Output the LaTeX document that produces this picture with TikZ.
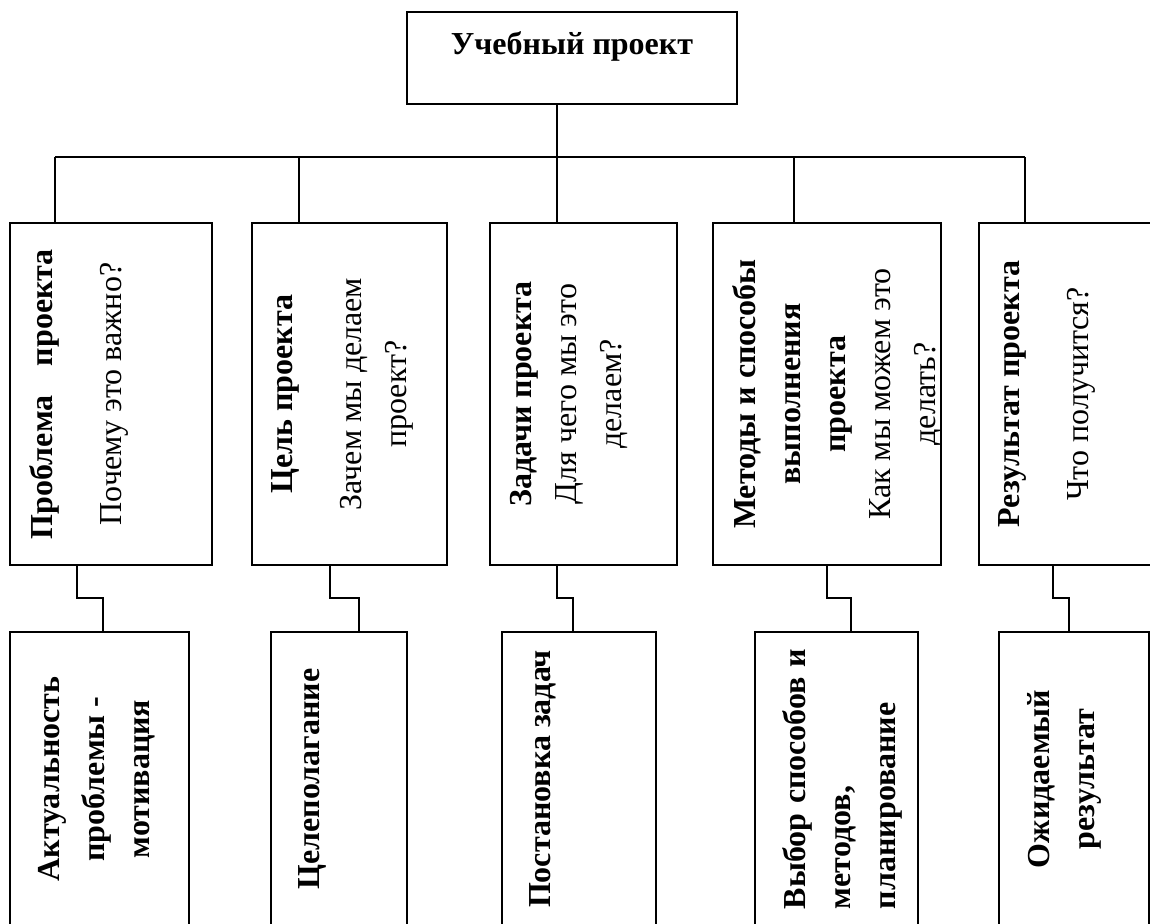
\documentclass[tikz,border=0pt]{standalone}
\usepackage{fontspec}
\setmainfont{Liberation Serif}
\usepackage{tikz}
\usetikzlibrary{calc}

% text cells, top aligned inside a box of fixed size
\newcommand{\stagetext}[2]{\parbox[c][#1][t]{171pt}{\vspace*{10pt}\centering #2}}
\newcommand{\resulttext}[2]{\parbox[c][#1][t]{147pt}{\vspace*{14pt}\centering #2}}

\begin{document}
\begin{tikzpicture}[
  x=0.5pt, y=-0.5pt,
  line width=0.8pt,
  project/.style={
    rectangle,
    draw,
    inner sep=0pt,
    font=\bfseries\fontsize{16}{22.5}\selectfont,
  },
  stage/.style={
    rectangle,
    draw,
    rotate=90,
    inner sep=0pt,
    font=\fontsize{16}{22.5}\selectfont,
  },
  result/.style={
    rectangle,
    draw,
    rotate=90,
    inner sep=0pt,
    font=\bfseries\fontsize{16}{22.5}\selectfont,
  },
]
\useasboundingbox (0,0) rectangle (1150,923);
\clip (0,0) rectangle (1150,923);

% ===== TOP NODE =====
\node[project] (proj) at (572,58) {\parbox[c][46pt][t]{165pt}{\vspace*{10pt}\centering Учебный проект}};

% ===== STAGE NODES (ROTATED) =====
\node[stage] (s1) at (111,394) {\stagetext{101pt}{%
  \makebox[145pt]{\bfseries Проблема\hfill проекта}\\[12pt]
  Почему это важно?}};

\node[stage] (s2) at (349.5,394) {\stagetext{97.5pt}{%
  {\bfseries Цель проекта}\\[12pt]
  Зачем мы делаем\\ проект?}};

\node[stage] (s3) at (583.5,394) {\stagetext{93.5pt}{%
  {\bfseries Задачи проекта}\\
  Для чего мы это\\ делаем?}};

\node[stage] (s4) at (827,394) {\stagetext{114pt}{%
  {\bfseries Методы и способы\\ выполнения\\ проекта}\\
  Как мы можем это\\ делать?}};

\node[stage] (s5) at (1069.5,394) {\stagetext{90.5pt}{%
  {\bfseries Результат проекта}\\[12pt]
  Что получится?}};

% ===== RESULT NODES (ROTATED) =====
\node[result] (r1) at (99.5,779) {\resulttext{89.5pt}{%
  Актуальность\\ проблемы -\\ мотивация}};

\node[result] (r2) at (339,779) {\resulttext{68pt}{Целеполагание}};

\node[result] (r3) at (579,779) {\resulttext{77pt}{Постановка задач}};

\node[result] (r4) at (836.5,779) {\resulttext{81.5pt}{%
  \parbox{130pt}{\raggedright
    \makebox[130pt][s]{Выбор способов и}\\ методов,\\ планирование}}};

\node[result] (r5) at (1074,779) {\resulttext{75pt}{%
  Ожидаемый\\ результат}};

% ===== TREE LINES =====
\coordinate (hub) at (557,157);
\coordinate (b1) at (55,157);
\coordinate (b2) at (299,157);
\coordinate (b4) at (794,157);
\coordinate (b5) at (1025,157);

\draw (proj.south -| hub) -- (hub);
\draw (b1) -- (b5);
\draw (b1) -- (b1 |- s1.east);
\draw (b2) -- (b2 |- s2.east);
\draw (hub) -- (hub |- s3.east);
\draw (b4) -- (b4 |- s4.east);
\draw (b5) -- (b5 |- s5.east);

% ===== STEPPED LINKS STAGE -> RESULT =====
\coordinate (k1) at (77,598);   \coordinate (j1) at (103,598);
\coordinate (k2) at (330,598);  \coordinate (j2) at (359,598);
\coordinate (k3) at (557,598);  \coordinate (j3) at (573,598);
\coordinate (k4) at (827,598);  \coordinate (j4) at (851,598);
\coordinate (k5) at (1053,598); \coordinate (j5) at (1069,598);

\draw (s1.west -| k1) -- (k1) -- (j1) -- (j1 |- r1.east);
\draw (s2.west -| k2) -- (k2) -- (j2) -- (j2 |- r2.east);
\draw (s3.west -| k3) -- (k3) -- (j3) -- (j3 |- r3.east);
\draw (s4.west -| k4) -- (k4) -- (j4) -- (j4 |- r4.east);
\draw (s5.west -| k5) -- (k5) -- (j5) -- (j5 |- r5.east);

\end{tikzpicture}
\end{document}
